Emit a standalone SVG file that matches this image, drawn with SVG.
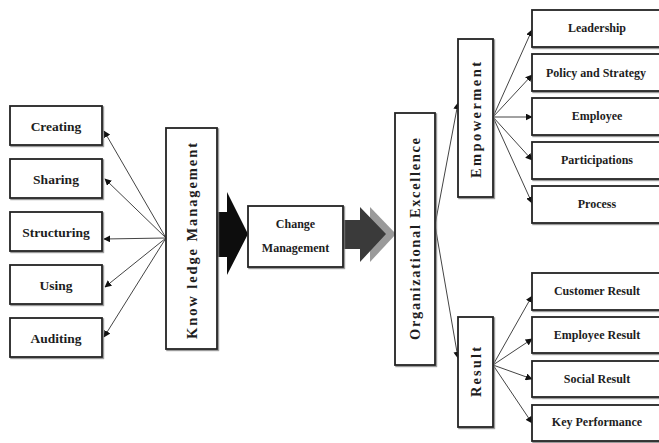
<svg xmlns="http://www.w3.org/2000/svg" width="659" height="443" viewBox="0 0 659 443">
<defs>
<marker id="ah" viewBox="0 0 10 10" refX="9" refY="5" markerWidth="7" markerHeight="7" orient="auto" markerUnits="userSpaceOnUse">
<path d="M0,0 L10,5 L0,10 z" fill="#111"/>
</marker>
<filter id="sh" x="-10%" y="-10%" width="130%" height="130%">
<feDropShadow dx="1.2" dy="1.2" stdDeviation="0.6" flood-color="#777" flood-opacity="0.8"/>
</filter>
</defs>
<style>
.box{fill:#fff;stroke:#222;stroke-width:1.8;filter:url(#sh)}
.t{font-family:"Liberation Serif","Times New Roman",serif;font-weight:bold;fill:#1d1d1d;text-anchor:middle;dominant-baseline:central}
.l{font-size:13.5px}
.r{font-size:12px}
.v{font-size:14.5px}
.c{stroke:#444;stroke-width:1;fill:none;marker-end:url(#ah)}
</style>
<rect width="659" height="443" fill="#fff"/>

<g id="connectors">
<line class="c" x1="166" y1="238" x2="104" y2="131"/>
<line class="c" x1="166" y1="238" x2="105" y2="179"/>
<line class="c" x1="166" y1="238" x2="104" y2="239"/>
<line class="c" x1="166" y1="238" x2="105" y2="287"/>
<line class="c" x1="166" y1="238" x2="104" y2="337"/>
<line class="c" x1="435" y1="225" x2="458" y2="103"/>
<line class="c" x1="435" y1="225" x2="458" y2="358"/>
<line class="c" x1="493" y1="117" x2="532" y2="30"/>
<line class="c" x1="493" y1="117" x2="532" y2="75"/>
<line class="c" x1="493" y1="117" x2="532" y2="117"/>
<line class="c" x1="493" y1="117" x2="532" y2="160"/>
<line class="c" x1="493" y1="117" x2="532" y2="203"/>
<line class="c" x1="493" y1="365" x2="532" y2="296"/>
<line class="c" x1="493" y1="365" x2="532" y2="339"/>
<line class="c" x1="493" y1="365" x2="532" y2="379"/>
<line class="c" x1="493" y1="365" x2="532" y2="423"/>
<polygon id="arrow-black" points="216,212 227,212 227,192 248,234 227,275 227,257 216,257" fill="#0d0d0d"/>
<g id="arrow-grey">
<polygon points="370,207 396,234 370,262" fill="#9a9a9a"/>
<polygon points="343,220 360,220 360,207 386,234 360,262 360,249 343,249" fill="#3a3a3a"/>
</g>
</g>

<g id="creating"><rect class="box" x="10" y="106" width="92" height="39"/><text class="t l" x="56" y="126">Creating</text></g>
<g id="sharing"><rect class="box" x="10" y="159" width="92" height="39"/><text class="t l" x="56" y="179">Sharing</text></g>
<g id="structuring"><rect class="box" x="10" y="212" width="92" height="39"/><text class="t l" x="56" y="232">Structuring</text></g>
<g id="using"><rect class="box" x="10" y="265" width="92" height="39"/><text class="t l" x="56" y="285">Using</text></g>
<g id="auditing"><rect class="box" x="10" y="318" width="92" height="39"/><text class="t l" x="56" y="338">Auditing</text></g>

<g id="knowledge-management"><rect class="box" x="166" y="128" width="51" height="221"/>
<text class="t v" transform="translate(192,241) rotate(-90)" textLength="196" lengthAdjust="spacing">Know ledge Management</text></g>

<g id="change-management"><rect class="box" x="248" y="206" width="95" height="61"/>
<text class="t r" x="295.5" y="224">Change</text><text class="t r" x="295.5" y="248">Management</text></g>

<g id="organizational-excellence"><rect class="box" x="395" y="113" width="40" height="252"/>
<text class="t v" transform="translate(415,239) rotate(-90)" textLength="202" lengthAdjust="spacing">Organizational Excellence</text></g>

<g id="empowerment"><rect class="box" x="458" y="39" width="35" height="158"/>
<text class="t v" transform="translate(475.5,120) rotate(-90)" textLength="116" lengthAdjust="spacing">Empowerment</text></g>

<g id="result"><rect class="box" x="458" y="317" width="35" height="110"/>
<text class="t v" transform="translate(475.5,372) rotate(-90)" textLength="50" lengthAdjust="spacing">Result</text></g>

<g id="leadership"><rect class="box" x="532" y="10" width="130" height="37"/><text class="t r" x="597" y="28">Leadership</text></g>
<g id="policy"><rect class="box" x="532" y="54" width="130" height="37"/><text class="t r" x="596" y="73">Policy and Strategy</text></g>
<g id="employee"><rect class="box" x="532" y="98" width="130" height="37"/><text class="t r" x="597" y="116">Employee</text></g>
<g id="participations"><rect class="box" x="532" y="142" width="130" height="37"/><text class="t r" x="597" y="160">Participations</text></g>
<g id="process"><rect class="box" x="532" y="186" width="130" height="37"/><text class="t r" x="597" y="204">Process</text></g>

<g id="customer-result"><rect class="box" x="532" y="273" width="130" height="37"/><text class="t r" x="597" y="291">Customer Result</text></g>
<g id="employee-result"><rect class="box" x="532" y="317" width="130" height="36"/><text class="t r" x="597" y="335">Employee Result</text></g>
<g id="social-result"><rect class="box" x="532" y="361" width="130" height="36"/><text class="t r" x="597" y="379">Social Result</text></g>
<g id="key-performance"><rect class="box" x="532" y="405" width="130" height="36"/><text class="t r" x="597" y="422">Key Performance</text></g>
</svg>
